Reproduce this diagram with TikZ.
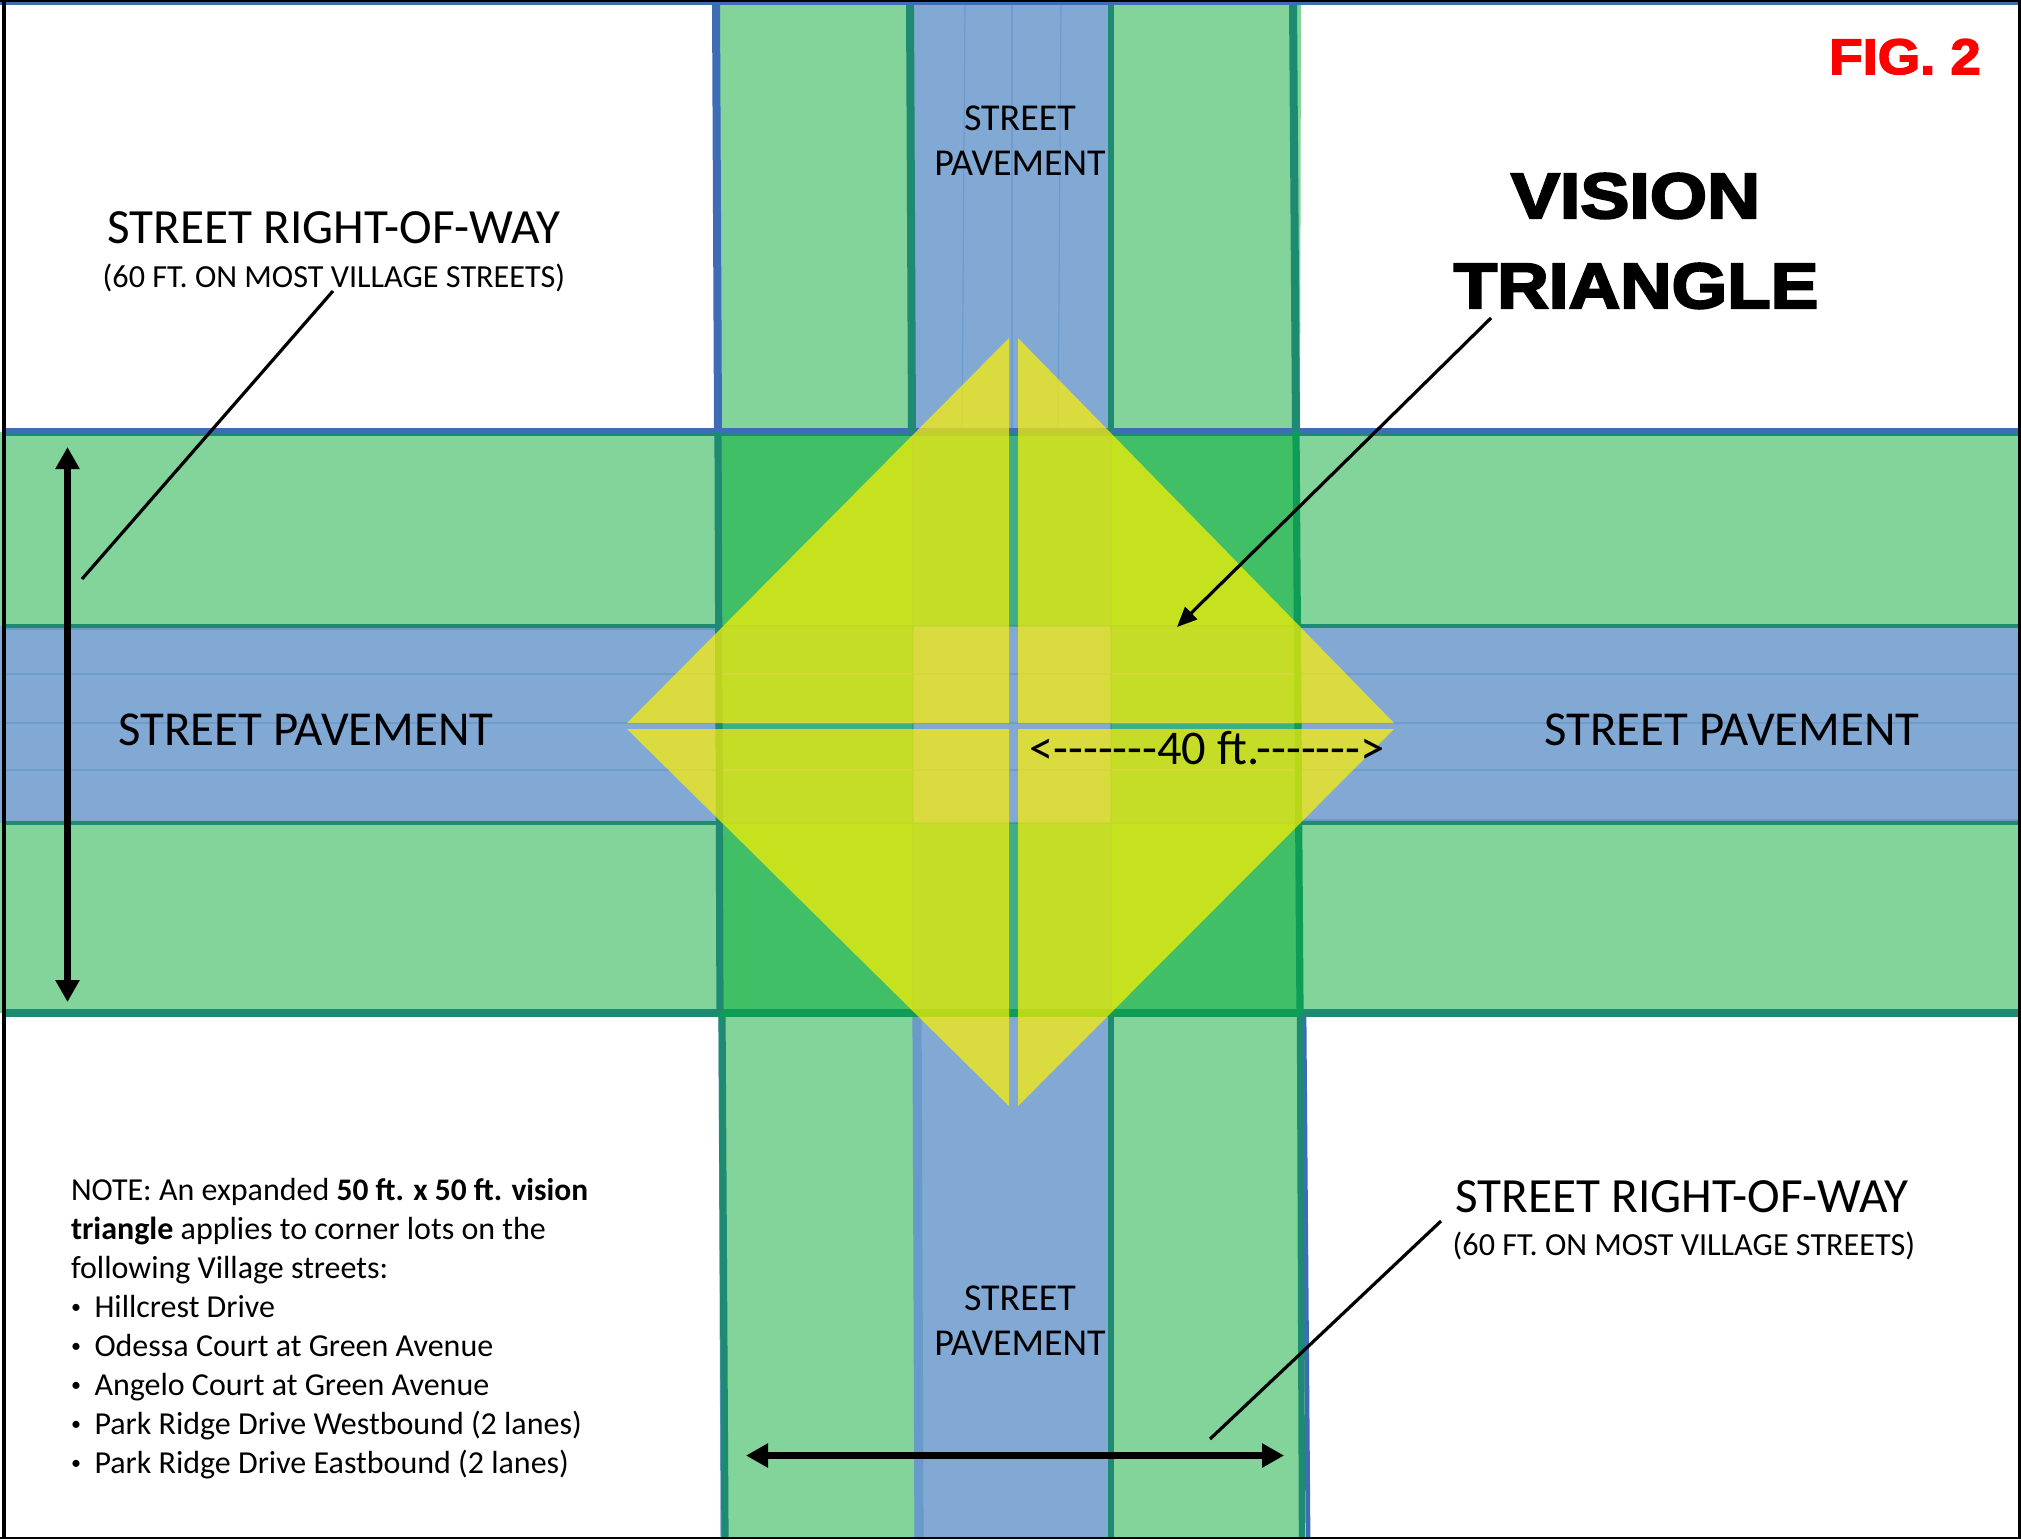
\documentclass[tikz,border=0pt]{standalone}
\usepackage{fontspec}
\usepackage{graphicx}
\setmainfont{Carlito}
\newfontfamily\rawf{Carlito}
\newfontfamily\heavyf[UprightFont=* Bold,FakeBold=3.5,FakeStretch=1.115]{Liberation Sans}
\newfontfamily\figf[UprightFont=* Bold,FakeBold=3,FakeStretch=1.09]{Liberation Sans}
\usetikzlibrary{arrows.meta}
\definecolor{lgreen}{HTML}{82D49A}
\definecolor{dgreen}{HTML}{40BF66}
\definecolor{pave}{HTML}{82A8D4}
\definecolor{cross}{HTML}{3EAE84}
\definecolor{teal1}{HTML}{1F8A72}
\definecolor{blue1}{HTML}{3F6DB5}
\definecolor{blue2}{HTML}{6A9ACB}
\definecolor{green1}{HTML}{0F9C57}
\definecolor{faint}{HTML}{6F9CCB}
\tikzset{
  lbl/.style={inner sep=0pt,outer sep=0pt,anchor=base,text=black},
  big/.style={lbl,font=\fontsize{24.6}{24.6}\selectfont},
  pavetxt/.style={lbl,font=\fontsize{24.4}{24.4}\selectfont},
  sub/.style={lbl,font=\fontsize{16.1}{16.1}\selectfont},
  vert/.style={lbl,font=\fontsize{19}{19}\selectfont},
  notetxt/.style={lbl,anchor=base west,font=\fontsize{16}{16}\selectfont},
  tri/.style={fill=yellow,fill opacity=0.7,draw=none},
  hair/.style={line width=0.6pt,draw=faint},
  leader/.style={draw=black,line width=1.6pt},
  dim/.style={draw=black,line width=3.5pt,{Triangle[length=11pt,width=11.5pt]}-{Triangle[length=11pt,width=11.5pt]}}
}
\newcommand{\bul}{\makebox[11.75pt][l]{\fontsize{10}{10}\selectfont\raisebox{1.6pt}{•}}}
\begin{document}
\begin{tikzpicture}[x=0.5pt,y=-0.5pt]
\useasboundingbox (0,0) rectangle (2021,1539);
\fill[white] (0,0) rectangle (2021,1539);
% bands
\fill[lgreen] (0,432) rectangle (2021,1013);
\fill[lgreen] (717,0) -- (1301,0) -- (1300,432) -- (1301,1013) -- (1304,1539) -- (725,1539) -- (720,1013) -- (718,432) -- cycle;
\fill[dgreen] (718,432) rectangle (1298,1013);
\fill[pave] (0,626) rectangle (2021,823);
\fill[pave] (912,0) -- (1111,0) -- (1111,1539) -- (918,1539) -- (913,1013) -- cycle;
\fill[cross] (913,432) rectangle (1111,1013);
\fill[cross] (718,626) rectangle (1298,823);
\fill[pave] (913,626) rectangle (1111,823);
% faint lane lines
\foreach \yy in {674,723,770}{\draw[hair] (6,\yy) -- (2021,\yy);}
\foreach \xa/\xb in {965/962,1012/1012,1061/1058}{\draw[hair] (\xa,4) -- (\xb,430);}
% horizontal edges
\draw[blue1,line width=2.5pt] (5,430.5) -- (2021,430.5);
\draw[teal1,line width=1.6pt] (5,434.5) -- (2021,434.5);
\draw[teal1,line width=1.6pt] (6,626) -- (718,626);
\draw[teal1,line width=1.6pt] (1296,626) -- (2021,626);
\draw[teal1,line width=1.6pt] (6,823) -- (718,823);
\draw[teal1,line width=1.6pt] (1296,823) -- (2021,823);
\draw[blue2,line width=1.2pt] (6,629) -- (718,629);
\draw[blue2,line width=1.2pt] (1296,820) -- (2021,820);
\draw[teal1,line width=4pt] (5,1013) -- (2021,1013);
\draw[green1,line width=4pt] (718,1013) -- (1300,1013);
% vertical edges, top arm
\draw[blue1,line width=4pt] (716,2) -- (718,430);
\draw[teal1,line width=4pt] (910,2) -- (912,432);
\draw[teal1,line width=3.4pt] (1111,2) -- (1111,432);
\draw[teal1,line width=4pt] (1293,2) -- (1296,432);
% vertical edges, centre
\draw[teal1,line width=3.6pt] (718,432) -- (720,1013);
\draw[green1,line width=3.6pt] (1296,432) -- (1300,1013);
\draw[teal1,line width=1pt,opacity=.4] (913,432) -- (913,1013);
\draw[teal1,line width=1pt,opacity=.4] (1111,432) -- (1111,1013);
\draw[teal1,line width=1pt,opacity=.4] (718,626) -- (1296,626);
\draw[teal1,line width=1pt,opacity=.4] (718,823) -- (1296,823);
% vertical edges, bottom arm
\draw[blue2,line width=1.5pt] (720,1017) -- (722,1539);
\draw[teal1,line width=3.6pt] (722,1017) -- (725,1539);
\draw[blue2,line width=4.6pt] (917,1017) -- (919,1539);
\draw[teal1,line width=3.2pt] (1111,1017) -- (1111,1539);
\draw[blue1,line width=2.4pt] (1304,1017) -- (1308,1539);
\draw[teal1,line width=3.2pt] (1300,1017) -- (1302,1539);
% vision triangle
\fill[tri] (1009,338) -- (627,723) -- (1009,723) -- cycle;
\fill[tri] (1018,338) -- (1018,723) -- (1394,723) -- cycle;
\fill[tri] (627,729) -- (1009,729) -- (1009,1106) -- cycle;
\fill[tri] (1018,729) -- (1394,729) -- (1018,1106) -- cycle;
% border
\draw[black,line width=1.2pt] (0,1.2) -- (2021,1.2);
\draw[blue1,line width=1.2pt] (0,3.6) -- (2021,3.6);
\draw[black,line width=2.2pt] (4,0) -- (4,1539);
\draw[black,line width=1.5pt] (2019.5,0) -- (2019.5,1539);
\draw[black,line width=1pt] (0,1538) -- (2021,1538);
% labels
\node[lbl,text=red,font=\figf\fontsize{25}{25}\selectfont] (fig) at (1905,74) {FIG. 2};
\node[lbl,font=\heavyf\fontsize{32}{32}\selectfont] (vis) at (1635.5,218) {\scalebox{1.03}[1]{VISION}};
\node[lbl,font=\heavyf\fontsize{32}{32}\selectfont] (visb) at (1636,308) {TRIANGLE};
\node[big] (row1) at (334,243) {STREET RIGHT-OF-WAY};
\node[sub] (row1s) at (334,287) {(60 FT. ON MOST VILLAGE STREETS)};
\node[big] (row2) at (1682,1212) {STREET RIGHT-OF-WAY};
\node[sub] (row2s) at (1684,1255) {(60 FT. ON MOST VILLAGE STREETS)};
\node[pavetxt] (pl) at (306,745) {STREET PAVEMENT};
\node[pavetxt] (pr) at (1732,745) {STREET PAVEMENT};
\node[vert] (pta) at (1020,130) {STREET};
\node[vert] (ptb) at (1020,175) {PAVEMENT};
\node[vert] (pba) at (1020,1310) {STREET};
\node[vert] (pbb) at (1020,1355) {PAVEMENT};
\node[lbl,font=\rawf\fontsize{24.2}{24.2}\selectfont] (forty) at (1207,764) {<-------40 ft.------->};
\node[notetxt] (n1) at (71,1200) {NOTE: An expanded {\fontsize{15.7}{15.7}\selectfont\textbf{50 ft. x 50 ft. vision}}};
\node[notetxt] (n2) at (71,1239) {\textbf{triangle} applies to corner lots on the};
\node[notetxt] (n3) at (71,1278) {following Village streets:};
\node[notetxt] (n4) at (71,1317) {\bul Hillcrest Drive};
\node[notetxt] (n5) at (71,1356) {\bul Odessa Court at Green Avenue};
\node[notetxt] (n6) at (71,1395) {\bul Angelo Court at Green Avenue};
\node[notetxt] (n7) at (71,1434) {\bul Park Ridge Drive Westbound (2 lanes)};
\node[notetxt] (n8) at (71,1473) {\bul Park Ridge Drive Eastbound (2 lanes)};
% connectors
\coordinate (a1) at (333,291); \coordinate (a2) at (82,579);
\coordinate (b1) at (1491,318); \coordinate (b2) at (1177,627);
\coordinate (c1) at (1441,1221); \coordinate (c2) at (1210,1439);
\coordinate (d1) at (67.5,447); \coordinate (d2) at (67.5,1002);
\coordinate (e1) at (746,1455.5); \coordinate (e2) at (1284,1455.5);
\draw[leader] (a1) -- (a2);
\draw[leader,-{Triangle[length=10pt,width=8.5pt]}] (b1) -- (b2);
\draw[leader] (c1) -- (c2);
\draw[dim] (d1) -- (d2);
\draw[dim] (e1) -- (e2);
\end{tikzpicture}
\end{document}
